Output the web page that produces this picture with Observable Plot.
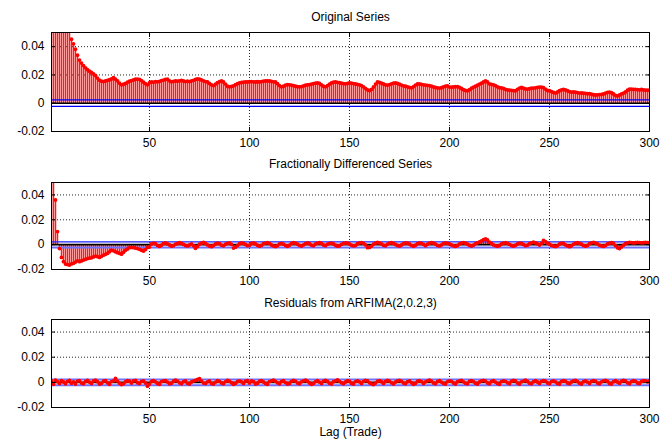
<!DOCTYPE html>
<html>
<head>
<meta charset="utf-8">
<script src="https://cdn.jsdelivr.net/npm/d3@7"></script>
<script src="https://cdn.jsdelivr.net/npm/@observablehq/plot@0.6"></script>
<style>
  html, body { margin: 0; padding: 0; background: #fff; }
  #chart { position: relative; width: 660px; height: 443px; overflow: hidden; background: #fff; }
  #chart > div { position: absolute; left: 0; }
</style>
</head>
<body>
<div id="chart"></div>
<script>
// ---- data ----
const lags = d3.range(1, 301);
const xTicks = [50, 100, 150, 200, 250, 300];
const yTicks = [-0.02, 0, 0.02, 0.04];
const titles = ["Original Series", "Fractionally Differenced Series", "Residuals from ARFIMA(2,0.2,3)"];
const xAxisLabel = "Lag (Trade)";
const confBound = 0.0023;

const originalAcf = [
  .20,.15,.12,.10,.09,.08,.07,.062,.056,.051,
  .0453,.0420,.0382,.0340,.0305,.0284,.0266,.0250,.0237,.0226,
  .0218,.0207,.0196,.0178,.0163,.0156,.0153,.0157,.0162,.0166,
  .0172,.0181,.0170,.0158,.0142,.0130,.0134,.0140,.0149,.0156,
  .0160,.0165,.0170,.0171,.0169,.0160,.0149,.0138,.0130,.0145,
  .0151,.0149,.0153,.0151,.0155,.0160,.0163,.0168,.0170,.0158,
  .0151,.0155,.0158,.0156,.0158,.0161,.0157,.0153,.0156,.0153,
  .0158,.0162,.0168,.0172,.0170,.0164,.0158,.0153,.0150,.0140,
  .0130,.0125,.0135,.0145,.0153,.0158,.0150,.0135,.0120,.0116,
  .0119,.0123,.0131,.0138,.0144,.0147,.0149,.0151,.0150,.0152,
  .0153,.0151,.0150,.0152,.0150,.0153,.0156,.0158,.0157,.0158,
  .0154,.0151,.0150,.0138,.0125,.0116,.0120,.0128,.0132,.0130,
  .0128,.0124,.0120,.0117,.0116,.0118,.0122,.0127,.0130,.0131,
  .0135,.0139,.0142,.0144,.0140,.0130,.0120,.0116,.0125,.0135,
  .0143,.0149,.0151,.0148,.0145,.0141,.0138,.0137,.0140,.0144,
  .0142,.0139,.0136,.0133,.0130,.0125,.0116,.0105,.0095,.0090,
  .0098,.0115,.0135,.0151,.0148,.0142,.0136,.0130,.0128,.0132,
  .0137,.0142,.0144,.0140,.0134,.0128,.0123,.0120,.0116,.0112,
  .0109,.0118,.0128,.0136,.0137,.0133,.0130,.0128,.0126,.0125,
  .0120,.0115,.0111,.0109,.0107,.0110,.0116,.0121,.0123,.0114,
  .0114,.0115,.0117,.0118,.0112,.0104,.0096,.0090,.0088,.0096,
  .0106,.0114,.0120,.0127,.0135,.0142,.0150,.0158,.0150,.0137,
  .0133,.0130,.0124,.0116,.0110,.0108,.0104,.0098,.0094,.0093,
  .0091,.0089,.0088,.0098,.0107,.0111,.0106,.0101,.0100,.0103,
  .0106,.0107,.0109,.0112,.0114,.0114,.0110,.0100,.0090,.0088,
  .0082,.0076,.0072,.0080,.0088,.0095,.0097,.0094,.0088,.0082,
  .0079,.0080,.0078,.0075,.0072,.0073,.0071,.0069,.0067,.0068,
  .0064,.0060,.0058,.0059,.0061,.0062,.0066,.0072,.0077,.0079,
  .0074,.0065,.0056,.0051,.0058,.0066,.0072,.0080,.0092,.0100,
  .0099,.0097,.0098,.0096,.0095,.0097,.0094,.0092,.0093,.0090
];

const fracDiffAcf = [
  .090,.060,.0360,.0105,-.0032,-.0103,-.0137,-.0156,-.0160,-.0164,
  -.0155,-.0150,-.0140,-.0130,-.0137,-.0131,-.0124,-.0118,-.0112,-.0108,
  -.0106,-.0099,-.0092,-.0097,-.0103,-.0094,-.0085,-.0078,-.0071,-.0058,
  -.0045,-.0050,-.0058,-.0065,-.0071,-.0077,-.0062,-.0045,-.0035,-.0024,
  -.0022,-.0024,-.0028,-.0032,-.0038,-.0045,-.0052,-.0040,-.0022,-.0018,
  .0005,.0012,.0008,-.0006,-.0014,-.0004,.0010,.0015,.0006,-.0003,
  -.0012,-.0008,.0004,.0009,.0016,.0011,.0002,-.0007,-.0010,-.0003,
  .0006,-.0009,-.0030,-.0015,.0004,.0012,.0018,.0009,-.0002,-.0011,
  -.0016,-.0007,.0005,.0013,.0008,-.0004,-.0009,.0003,.0011,.0015,
  .0002,-.0028,-.0020,-.0006,.0007,.0014,.0010,.0001,-.0008,-.0005,
  .0009,.0014,.0006,-.0005,-.0012,-.0006,.0008,.0013,.0017,.0010,
  -.0003,-.0010,-.0015,-.0008,.0006,.0011,.0004,-.0007,-.0013,-.0004,
  .0009,.0016,.0012,.0003,-.0006,-.0011,-.0002,.0008,.0014,.0007,
  -.0004,-.0009,.0005,.0012,.0016,.0009,-.0003,-.0008,.0004,.0011,
  .0013,.0006,-.0005,-.0012,-.0009,.0002,.0010,.0015,.0012,.0005,
  -.0004,-.0010,-.0006,.0007,.0014,.0017,.0011,-.0002,-.0024,-.0022,
  -.0012,.0003,.0012,.0018,.0014,.0006,-.0005,-.0009,.0004,.0013,
  .0016,.0010,.0001,-.0007,-.0011,-.0003,.0008,.0015,.0012,.0005,
  -.0006,-.0013,-.0005,.0007,.0014,.0011,.0002,-.0008,.0003,.0012,
  .0017,.0013,.0004,-.0006,-.0010,-.0002,.0009,.0015,.0011,.0006,
  -.0003,-.0009,-.0014,-.0007,.0006,.0013,.0017,.0012,.0003,-.0005,
  -.0011,-.0004,.0008,.0015,.0022,.0030,.0040,.0047,.0038,.0020,
  .0009,-.0002,-.0008,-.0013,-.0006,.0005,.0012,.0016,.0010,.0002,
  -.0007,-.0012,-.0005,.0006,.0013,.0009,.0001,-.0008,-.0004,.0007,
  .0015,.0020,.0014,.0006,-.0003,.0010,.0034,.0025,.0012,.0004,
  -.0006,-.0011,-.0015,-.0008,.0005,.0013,.0009,-.0002,-.0010,-.0016,
  -.0009,.0004,.0012,.0017,.0011,.0003,-.0007,-.0012,-.0006,.0008,
  .0015,.0018,.0013,.0005,-.0004,-.0010,-.0014,-.0007,.0006,.0012,
  .0016,.0009,-.0008,-.0025,-.0032,-.0018,-.0004,.0008,.0015,.0018,
  .0017,.0014,.0016,.0019,.0017,.0015,.0016,.0018,.0016,.0014
];

const residualAcf = [
  .0012,-.0015,.0018,.0006,-.0010,.0014,.0003,-.0012,.0008,.0016,
  -.0008,.0004,-.0014,.0010,.0013,-.0006,-.0011,.0007,.0015,.0002,
  -.0009,.0011,.0017,.0005,-.0013,-.0008,.0009,.0014,-.0004,-.0016,
  .0006,.0012,.0032,.0010,-.0007,-.0018,-.0012,.0005,.0013,.0009,
  -.0006,.0011,.0016,-.0003,-.0010,.0008,.0012,-.0005,-.0030,-.0014,
  .0007,.0013,.0004,-.0009,-.0015,.0006,.0011,.0014,.0002,-.0012,
  -.0007,.0009,.0018,.0010,-.0004,-.0011,.0005,.0012,-.0008,-.0013,
  .0003,.0010,.0015,.0024,.0030,.0012,-.0006,-.0010,.0004,.0011,
  -.0009,-.0014,.0002,.0013,.0008,-.0005,-.0012,.0006,.0015,.0009,
  -.0003,-.0016,-.0008,.0007,.0012,.0004,-.0010,.0009,.0014,-.0006,
  .0011,.0005,-.0013,-.0007,.0009,.0014,.0003,-.0010,-.0015,.0006,
  .0012,.0017,.0008,-.0004,-.0011,.0007,.0013,-.0002,-.0014,-.0009,
  .0008,.0015,.0010,-.0006,-.0012,.0004,.0011,.0018,.0009,-.0005,
  -.0016,-.0010,.0006,.0013,.0002,-.0009,.0010,.0016,.0007,-.0008,
  -.0013,.0005,.0012,.0019,.0008,-.0004,-.0011,.0003,.0014,.0009,
  -.0007,-.0014,.0006,.0012,.0004,-.0010,.0008,.0015,.0011,-.0003,
  -.0012,-.0018,-.0006,.0009,.0013,.0005,-.0009,.0007,.0016,.0010,
  -.0004,-.0013,.0003,.0011,.0015,.0008,-.0006,-.0011,.0005,.0012,
  -.0003,-.0015,-.0008,.0009,.0014,.0006,-.0010,.0004,.0012,.0017,
  .0009,-.0005,-.0012,.0007,.0013,.0002,-.0009,-.0014,.0006,.0011,
  .0008,-.0006,-.0013,.0005,.0012,.0015,.0004,-.0008,-.0011,.0009,
  .0014,.0006,-.0007,-.0014,.0003,.0011,.0016,.0010,-.0005,-.0012,
  .0007,.0013,.0002,-.0010,-.0015,.0006,.0012,.0008,-.0004,-.0011,
  .0009,.0015,.0011,-.0006,-.0013,.0004,.0010,.0017,.0007,-.0008,
  -.0012,.0005,.0013,.0003,-.0009,.0008,.0014,.0010,-.0005,-.0011,
  .0006,.0012,.0004,-.0010,-.0014,.0007,.0013,.0009,-.0005,-.0012,
  .0003,.0011,.0015,.0006,-.0008,-.0013,.0005,.0012,.0002,-.0010,
  .0008,.0014,.0010,-.0006,-.0011,.0004,.0012,.0016,.0007,-.0009,
  -.0014,.0005,.0013,.0003,-.0007,.0009,.0015,.0011,-.0004,-.0012,
  .0006,.0013,.0008,-.0005,-.0010,.0007,.0014,.0012,.0004,.0009
];

// ---- drawing ----
const font = "'Liberation Sans', Arial, Helvetica, sans-serif";
const fmtY = d => d === 0 ? "0" : d.toFixed(2);

function panel({values, title, titleDy, height, marginBottom, upper, lower, xLabel}) {
  const data = lags.map((lag, i) => ({lag, base: 0, value: values[i]}));
  const marks = [
    Plot.gridX(xTicks.filter(t => t < 300), {stroke: "#000", strokeOpacity: 0.85, strokeDasharray: "1,2"}),
    Plot.gridY(yTicks.filter(t => t > 0), {stroke: "#000", strokeOpacity: 0.85, strokeDasharray: "1,2"}),
    Plot.link(data, {x1: "lag", x2: "lag", y1: "base", y2: "value", stroke: "#ff1a1a", strokeOpacity: 1, strokeWidth: 1.5, clip: true}),
    Plot.ruleY([confBound], {stroke: upper.color, strokeWidth: upper.width}),
    Plot.ruleY([-confBound], {stroke: lower.color, strokeWidth: lower.width}),
    Plot.ruleY([0], {stroke: "#000", strokeWidth: 1.6}),
    Plot.dot(data, {x: "lag", y: "value", r: 1.9, fill: "red", stroke: "none", clip: true}),
    Plot.frame({stroke: "#000", strokeWidth: 1}),
    Plot.axisX(xTicks, {anchor: "bottom", tickSize: -4, tickPadding: 11, tickFormat: d => String(d), label: null, fontSize: 12}),
    Plot.axisX(xTicks, {anchor: "top", tickSize: -4, tickFormat: () => "", label: null}),
    Plot.axisY(yTicks, {anchor: "left", tickSize: -4, tickPadding: 11, tickFormat: fmtY, label: null, fontSize: 12}),
    Plot.axisY(yTicks, {anchor: "right", tickSize: -4, tickFormat: () => "", label: null}),
    Plot.text([title], {frameAnchor: "top", lineAnchor: "middle", dy: titleDy, fontSize: 12, fill: "#000"})
  ];
  if (xLabel) marks.push(Plot.text([xLabel], {frameAnchor: "bottom", lineAnchor: "middle", dy: 25, fontSize: 12, fill: "#000"}));
  return Plot.plot({
    width: 660,
    height,
    marginTop: 32,
    marginBottom,
    marginLeft: 51,
    marginRight: 11,
    x: {domain: [1, 300], label: null},
    y: {domain: [-0.02, 0.05], label: null},
    style: {fontFamily: font, fontSize: "12px", color: "#000", background: "transparent", overflow: "visible"},
    marks
  });
}

const chart = document.getElementById("chart");
const specs = [
  {values: originalAcf, title: titles[0], titleDy: -15, top: 0, height: 150, marginBottom: 19,
   upper: {color: "#0000ff", width: 1.3}, lower: {color: "#0000ff", width: 1.3}},
  {values: fracDiffAcf, title: titles[1], titleDy: -18, top: 150, height: 150, marginBottom: 31,
   upper: {color: "#2020ff", width: 1.3}, lower: {color: "#7070ff", width: 2.2}},
  {values: residualAcf, title: titles[2], titleDy: -16, top: 287, height: 156, marginBottom: 36,
   upper: {color: "#7070ff", width: 2}, lower: {color: "#7070ff", width: 2}, xLabel: xAxisLabel}
];
for (const s of specs) {
  const holder = document.createElement("div");
  holder.style.top = s.top + "px";
  holder.appendChild(panel(s));
  chart.appendChild(holder);
}
</script>
</body>
</html>
